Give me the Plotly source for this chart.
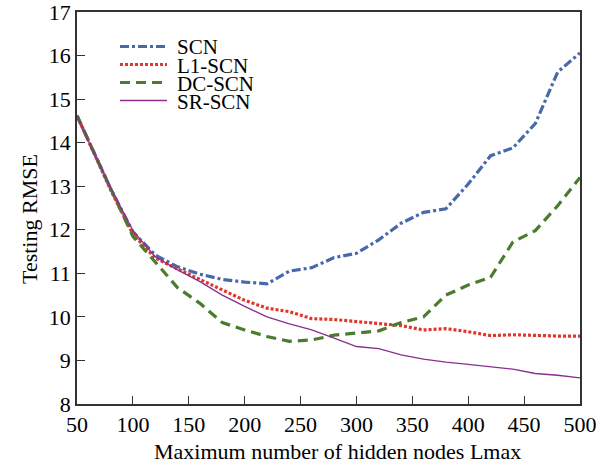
import plotly.graph_objects as go

x_nodes = [50, 60, 80, 100, 120, 140, 160, 180, 200, 220, 240, 260, 280, 300,
           320, 340, 360, 380, 400, 420, 440, 460, 480, 500]

scn = [14.62, 14.05, 12.95, 11.95, 11.42, 11.15, 10.98, 10.86, 10.8, 10.76, 11.05,
       11.13, 11.36, 11.46, 11.77, 12.15, 12.4, 12.48, 13.05, 13.7, 13.88, 14.44,
       15.62, 16.06]
l1_scn = [14.62, 14.05, 12.92, 11.9, 11.35, 11.1, 10.85, 10.62, 10.38, 10.2, 10.12,
          9.96, 9.94, 9.89, 9.84, 9.8, 9.7, 9.73, 9.66, 9.57, 9.59, 9.57, 9.56, 9.56]
dc_scn = [14.62, 14.05, 12.95, 11.85, 11.27, 10.67, 10.31, 9.87, 9.7, 9.55, 9.44,
          9.47, 9.58, 9.63, 9.68, 9.87, 10.0, 10.5, 10.73, 10.91, 11.72, 11.98,
          12.55, 13.2]
sr_scn = [14.62, 14.05, 12.97, 11.98, 11.38, 11.08, 10.81, 10.5, 10.24, 10.0, 9.84,
          9.7, 9.51, 9.32, 9.27, 9.13, 9.03, 8.96, 8.91, 8.86, 8.8, 8.7, 8.66, 8.6]

names = ["SCN", "L1-SCN", "DC-SCN", "SR-SCN"]
series = [scn, l1_scn, dc_scn, sr_scn]
colors = ["#4669ab", "#e2362a", "#4b7b2f", "#8a2f8e"]
dashes = ["9px,3px,3px,3px", "3px,2px", "10px,6px", "solid"]
widths = [3.2, 3.2, 3.2, 1.3]

FONT = "Liberation Serif, Times New Roman, serif"

fig = go.Figure()
for nm, ys, c, d, w in zip(names, series, colors, dashes, widths):
    fig.add_trace(go.Scatter(x=x_nodes, y=ys, mode="lines", name=nm,
                             line=dict(color=c, dash=d, width=w),
                             showlegend=False))

# manual legend (compact spacing as in the reference)
L, R, T, B = 77, 580, 12, 404
W, H = R - L, B - T
def px(xp):
    return (xp - L) / W
def py(yp):
    return (B - yp) / H

leg_y = [46.5, 64.5, 82.5, 100.5]
for nm, c, d, w, yy in zip(names, colors, dashes, widths, leg_y):
    fig.add_shape(type="line", xref="paper", yref="paper",
                  x0=px(120), x1=px(167), y0=py(yy), y1=py(yy),
                  line=dict(color=c, dash=d, width=w))
    fig.add_annotation(xref="paper", yref="paper", x=px(175), y=py(yy + 1),
                       text=nm, showarrow=False, xanchor="left", yanchor="middle",
                       height=18,
                       font=dict(family=FONT, size=21, color="black"))

# axis titles
fig.add_annotation(xref="paper", yref="paper", x=px(337), y=py(452),
                   text="Maximum number of hidden nodes Lmax", showarrow=False,
                   xanchor="center", yanchor="middle",
                   font=dict(family=FONT, size=22, color="black"))
fig.add_annotation(xref="paper", yref="paper", x=px(29), y=py(219),
                   text="Testing RMSE", showarrow=False, textangle=-90,
                   xanchor="center", yanchor="middle",
                   font=dict(family=FONT, size=22, color="black"))

axis_common = dict(showgrid=False, zeroline=False, showline=True, mirror=True,
                   linecolor="#333333", linewidth=1.5, ticks="inside", ticklen=8,
                   tickwidth=1.3, tickcolor="#333333", automargin=False,
                   ticklabeloverflow="allow",
                   tickfont=dict(family=FONT, size=22, color="black"))

fig.update_xaxes(range=[50, 500], tickvals=list(range(50, 501, 50)),
                 **axis_common)
fig.update_yaxes(range=[8, 17], tickvals=list(range(8, 18)),
                 **axis_common)

fig.update_layout(width=613, height=466,
                  margin=dict(l=L, r=613 - R, t=T, b=466 - B),
                  plot_bgcolor="white", paper_bgcolor="white")

fig.write_html("out.html", config={"displayModeBar": False},
               post_script="document.body.style.margin='0';"
                           "document.body.style.overflow='hidden';")
